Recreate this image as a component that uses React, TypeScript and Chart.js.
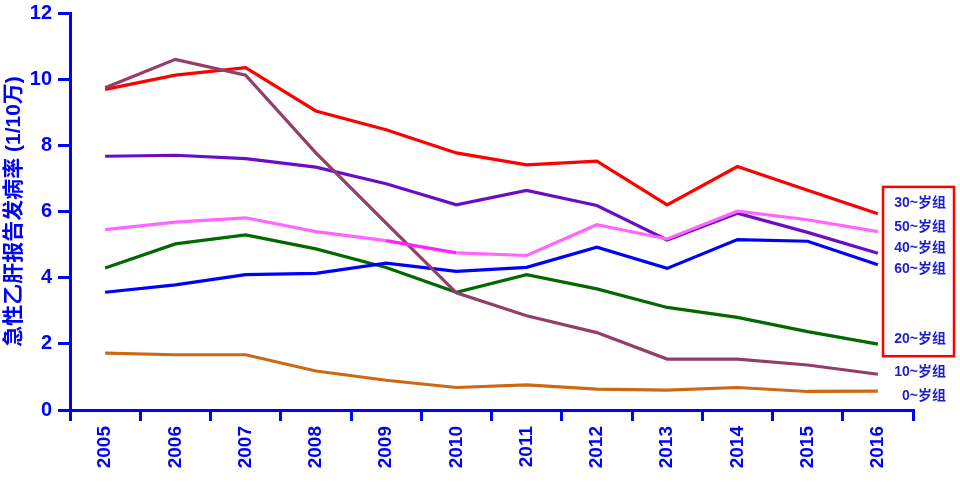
import React, { useEffect, useRef } from "react";
import { Chart, registerables } from "chart.js";

Chart.register(...registerables);

const years = ["2005", "2006", "2007", "2008", "2009", "2010", "2011", "2012", "2013", "2014", "2015", "2016"];

const g30 = [9.69, 10.12, 10.35, 9.04, 8.47, 7.77, 7.41, 7.52, 6.2, 7.36, 6.64, 5.93];
const g10 = [9.74, 10.6, 10.12, 7.77, 5.65, 3.54, 2.85, 2.34, 1.54, 1.54, 1.36, 1.08];
const g40 = [7.67, 7.7, 7.6, 7.34, 6.84, 6.2, 6.64, 6.18, 5.14, 5.95, 5.37, 4.74];
const g50 = [5.45, 5.68, 5.81, 5.39, 5.12, 4.75, 4.67, 5.6, 5.17, 6.01, 5.75, 5.39];
const g20 = [4.29, 5.02, 5.29, 4.87, 4.31, 3.56, 4.09, 3.66, 3.1, 2.8, 2.37, 1.99];
const g60 = [3.56, 3.78, 4.09, 4.13, 4.44, 4.19, 4.31, 4.92, 4.28, 5.15, 5.1, 4.39];
const g0 = [1.72, 1.67, 1.67, 1.18, 0.9, 0.68, 0.76, 0.63, 0.6, 0.68, 0.56, 0.57];

const endLabels = ["30~岁组", "50~岁组", "40~岁组", "60~岁组", "20~岁组", "10~岁组", "0~岁组"];
const endLabelValues = [6.26, 5.53, 4.89, 4.26, 2.14, 1.14, 0.41];
const boxedCount = 5;

const yTicks = [0, 2, 4, 6, 8, 10, 12];
const yTitle = "急性乙肝报告发病率 (1/10万)";

const BLUE = "#0000FF";
const FAMILY = "'Liberation Sans', 'Noto Sans CJK SC', Arial, sans-serif";

const endLabelPlugin = {
  id: "endLabels",
  afterDraw(chart: any) {
    const { ctx, chartArea, scales } = chart;
    const y = scales.y;
    const xr = chartArea.right + 33;
    ctx.save();
    ctx.font = `bold 14px ${FAMILY}`;
    ctx.fillStyle = "#1E1ED0";
    ctx.textAlign = "right";
    ctx.textBaseline = "middle";
    endLabels.forEach((t, i) => {
      ctx.fillText(t, xr, y.getPixelForValue(endLabelValues[i]));
    });
    const top = y.getPixelForValue(endLabelValues[0]) - 16;
    const bottom = y.getPixelForValue(endLabelValues[boxedCount - 1]) + 17;
    const left = chartArea.right - 30;
    const right = chartArea.right + 41;
    ctx.strokeStyle = "#FF0000";
    ctx.lineWidth = 2.5;
    ctx.strokeRect(left, top, right - left, bottom - top);
    ctx.restore();
  },
};

function ds(label: string, data: number[], color: string, extra: any = {}) {
  return {
    label,
    data,
    borderColor: color,
    backgroundColor: color,
    borderWidth: 3.2,
    pointRadius: 0,
    tension: 0,
    fill: false,
    ...extra,
  };
}

export default function App() {
  const ref = useRef<HTMLCanvasElement | null>(null);
  useEffect(() => {
    document.body.style.margin = "0";
    const canvas = ref.current;
    if (!canvas) return;
    const chart = new Chart(canvas, {
      type: "line",
      data: {
        labels: years,
        datasets: [
          ds("50~岁组", g50, "#FF66FF", {
            segment: { borderColor: (c: any) => (c.p0DataIndex === 4 ? "#FF22FF" : undefined) },
          }),
          ds("10~岁组", g10, "#933D68"),
          ds("30~岁组", g30, "#FF0000"),
          ds("40~岁组", g40, "#6A0DC8"),
          ds("60~岁组", g60, "#0000FF"),
          ds("20~岁组", g20, "#006A00"),
          ds("0~岁组", g0, "#CC6A14"),
        ],
      },
      options: {
        animation: false,
        responsive: false,
        maintainAspectRatio: false,
        layout: { padding: { top: 13, right: 47, left: 0, bottom: 0 } },
        plugins: { legend: { display: false }, tooltip: { enabled: false } },
        scales: {
          x: {
            type: "category",
            offset: true,
            grid: {
              offset: true,
              drawOnChartArea: false,
              drawTicks: true,
              tickLength: 11,
              color: BLUE,
              lineWidth: 3,
            },
            border: { display: true, color: BLUE, width: 3 },
            ticks: {
              color: BLUE,
              font: { size: 19, weight: "bold", family: FAMILY },
              minRotation: 90,
              maxRotation: 90,
              padding: 5,
              autoSkip: false,
            },
            afterFit: (s: any) => {
              s.height = 72;
              s.paddingLeft = 0;
              s.paddingRight = 0;
            },
          },
          y: {
            min: 0,
            max: 12,
            afterBuildTicks: (s: any) => {
              s.ticks = yTicks.map((v) => ({ value: v }));
            },
            ticks: {
              color: BLUE,
              font: { size: 20, weight: "bold", family: FAMILY },
              padding: 6,
            },
            grid: {
              drawOnChartArea: false,
              drawTicks: true,
              tickLength: 12,
              color: BLUE,
              lineWidth: 3,
            },
            border: { display: true, color: BLUE, width: 3 },
            title: {
              display: true,
              text: yTitle,
              color: BLUE,
              font: { size: 21, weight: "bold", family: FAMILY },
              padding: { top: 2, bottom: 0 },
            },
            afterFit: (s: any) => {
              s.width = 70;
              s.paddingTop = 0;
              s.paddingBottom = 0;
            },
          },
        },
      },
      plugins: [endLabelPlugin],
    } as any);
    return () => chart.destroy();
  }, []);
  return (
    <div style={{ width: 960, height: 482, background: "#fff" }}>
      <canvas ref={ref} width={960} height={482} style={{ display: "block", width: 960, height: 482 }} />
    </div>
  );
}
